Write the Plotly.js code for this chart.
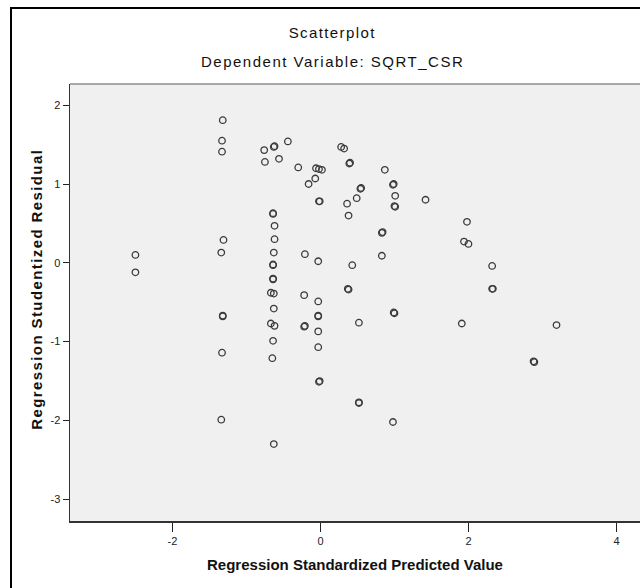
<!DOCTYPE html>
<html>
<head>
<meta charset="utf-8">
<script src="https://cdn.plot.ly/plotly-3.0.1.min.js"></script>
<style>
  html, body { margin: 0; padding: 0; background: #ffffff; }
  #wrap { position: relative; width: 640px; height: 588px; overflow: hidden; }
  #chart { position: absolute; left: 0; top: 0; width: 640px; height: 588px; }
  #frame { position: absolute; left: 10px; top: 7px; width: 640px; height: 600px;
           border-left: 2px solid #000; border-top: 2px solid #000; pointer-events: none; }
</style>
</head>
<body>
<div id="wrap">
  <div id="chart"></div>
  <div id="frame"></div>
</div>
<script>
// Regression Standardized Predicted Value (x) and Regression Studentized Residual (y)
var predicted = [
  -1.32, -1.33, -1.33, -0.76, -0.63, -0.62, -0.44, -0.75, -0.56, -0.30,
   0.28,  0.32,  0.39,  0.40, -0.06, -0.02,  0.02, -0.07, -0.16, -0.02,
  -0.01,  0.87,  0.54,  0.55,  0.49,  0.36,  0.38,  0.98,  0.99,  1.01,
   1.01,  1.00,  1.42,  0.83,  0.84,  1.98,  1.94,  2.00, -0.21, -0.03,
   0.43,  0.83,  2.32,  2.32,  2.33,  1.91,  3.19,  2.89,  2.88,  0.38,
   0.37, -0.22, -0.03, -0.03, -0.03, -0.22, -0.21, -0.03, -0.03,  0.52,
   0.99,  1.00, -0.02, -0.01,  0.52,  0.52,  0.98, -2.50, -2.50, -1.31,
  -1.34, -1.32, -1.32, -1.33, -1.34,
  -0.64, -0.64, -0.62, -0.62, -0.63, -0.64, -0.64, -0.64, -0.64, -0.67,
  -0.63, -0.63, -0.67, -0.62, -0.64, -0.65, -0.63
];
var residual = [
   1.81,  1.55,  1.41,  1.43,  1.47,  1.48,  1.54,  1.28,  1.32,  1.21,
   1.47,  1.45,  1.26,  1.27,  1.20,  1.19,  1.18,  1.07,  1.00,  0.78,
   0.78,  1.18,  0.94,  0.95,  0.82,  0.75,  0.60,  0.99,  1.00,  0.85,
   0.71,  0.72,  0.80,  0.38,  0.39,  0.52,  0.27,  0.24,  0.11,  0.02,
  -0.03,  0.09, -0.04, -0.33, -0.33, -0.77, -0.79, -1.26, -1.25, -0.34,
  -0.33, -0.41, -0.49, -0.68, -0.67, -0.81, -0.80, -0.87, -1.07, -0.76,
  -0.63, -0.64, -1.51, -1.50, -1.77, -1.78, -2.02,  0.10, -0.12,  0.29,
   0.13, -0.68, -0.67, -1.14, -1.99,
   0.63,  0.62,  0.47,  0.30,  0.13, -0.03, -0.02, -0.21, -0.20, -0.38,
  -0.39, -0.58, -0.77, -0.80, -0.99, -1.21, -2.30
];
var xTicks = [-2, 0, 2, 4];
var yTicks = [-3, -2, -1, 0, 1, 2];

var font = "Liberation Sans, Arial, sans-serif";

var trace = {
  type: 'scatter',
  mode: 'markers',
  x: predicted,
  y: residual,
  marker: {
    symbol: 'circle-open',
    size: 6.5,
    color: '#3a3a3a',
    line: { width: 1.3, color: '#3a3a3a' }
  },
  hoverinfo: 'x+y',
  showlegend: false
};

var layout = {
  width: 640,
  height: 588,
  margin: { l: 70, r: 0, t: 84, b: 67, pad: 0 },
  paper_bgcolor: '#ffffff',
  plot_bgcolor: '#f0f0f0',
  font: { family: font, color: '#222222', size: 11 },
  title: {
    text: 'Scatterplot',
    font: { family: font, size: 15, color: '#111111' },
    xref: 'paper', x: 0.46, xanchor: 'center',
    yref: 'container', y: 1 - 33 / 588, yanchor: 'middle'
  },
  annotations: [
    {
      text: 'Dependent Variable: SQRT_CSR',
      xref: 'paper', yref: 'paper',
      x: 0.46, y: (521 - 62) / 437, xanchor: 'center', yanchor: 'middle',
      showarrow: false,
      font: { family: font, size: 15, color: '#111111' }
    },
    {
      text: '<b>Regression Studentized Residual</b>',
      xref: 'paper', yref: 'paper',
      x: (36 - 70) / 570, y: (521 - 289) / 437,
      xanchor: 'center', yanchor: 'middle', textangle: -90,
      showarrow: false,
      font: { family: font, size: 15, color: '#111111' }
    }
  ],
  xaxis: {
    range: [-3.384, 4.318],
    tickvals: xTicks,
    ticktext: xTicks.map(String),
    ticks: 'outside', ticklen: 9, tickwidth: 1, tickcolor: '#222222',
    showgrid: false, zeroline: false,
    showline: true, linecolor: '#333333', linewidth: 1.5, mirror: false,
    tickfont: { family: font, size: 11, color: '#222222' },
    title: {
      text: '<b>Regression Standardized Predicted Value</b>',
      font: { family: font, size: 15, color: '#111111' },
      standoff: 14
    },
    fixedrange: true
  },
  yaxis: {
    range: [-3.276, 2.269],
    tickvals: yTicks,
    ticktext: yTicks.map(String),
    ticks: 'outside', ticklen: 6, tickwidth: 1, tickcolor: '#222222',
    showgrid: false, zeroline: false,
    showline: true, linecolor: '#333333', linewidth: 1.5, mirror: false,
    tickfont: { family: font, size: 11, color: '#222222' },
    fixedrange: true
  },
  shapes: [
    { type: 'line', xref: 'paper', yref: 'paper', x0: 0, x1: 1, y0: 1, y1: 1,
      line: { color: '#8c8c8c', width: 1.5 } }
  ]
};

Plotly.newPlot('chart', [trace], layout, { staticPlot: true, displayModeBar: false })
  .then(function (gd) {
    // the reference text is drawn with slightly wider spacing
    var t = gd.querySelector('.gtitle');
    if (t) t.style.letterSpacing = '1.4px';
    var ann = gd.querySelectorAll('.annotation-text');
    if (ann[0]) ann[0].style.letterSpacing = '1.5px';
    if (ann[1]) ann[1].style.letterSpacing = '1.4px';
  });
</script>
</body>
</html>
